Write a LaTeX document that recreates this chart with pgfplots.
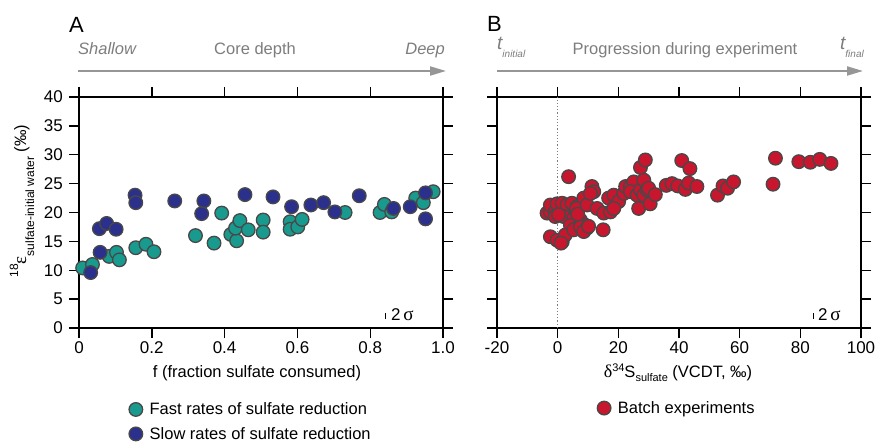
\documentclass[border=0pt]{standalone}
\usepackage{fontspec}
\setmainfont{Liberation Sans}
\newfontfamily\grk{Liberation Serif}
\usepackage{pgfplots}
\pgfplotsset{compat=1.18}
\usetikzlibrary{arrows.meta}
\definecolor{cteal}{RGB}{24,155,142}
\definecolor{cnavy}{RGB}{43,48,140}
\definecolor{cred}{RGB}{200,22,46}
\definecolor{cedge}{RGB}{72,72,72}
\definecolor{arrowgray}{RGB}{150,150,150}
\definecolor{textgray}{RGB}{125,125,125}
\newcommand{\fs}[1]{\fontsize{#1}{#1}\selectfont}
\begin{document}
\begin{tikzpicture}
\useasboundingbox (0pt,0pt) rectangle (875pt,442pt);
\pgfplotsset{
  common/.style={
    scale only axis, width=364pt, height=231pt,
    axis line style={line width=1.4pt},
    every tick/.style={black, line width=1.4pt},
    major tick length=10pt, tick align=outside,
    xtick pos=both, ytick pos=both,
    xticklabel pos=lower, yticklabel pos=left,
    ymin=0, ymax=40, ytick={0,5,...,40},
    tick label style={font=\fs{17}},
    xticklabel style={anchor=base, inner sep=0pt, yshift=-15pt},
    yticklabel style={anchor=east, inner sep=0pt, xshift=-6pt},
    clip=false,
    legend style={draw=none, fill=none, font=\fs{16.5}, row sep=7pt,
      anchor=north west, inner sep=0pt,
      /tikz/every odd column/.append style={column sep=5pt}},
    legend cell align=left,
  },
  pts/.style={only marks, mark=*, mark size=6.8pt,
    mark options={draw=cedge, line width=1.3pt, fill=#1}},
}
% ---------- Panel A ----------
\begin{axis}[common, at={(79pt,114pt)}, anchor=south west,
  xmin=0, xmax=1, xtick={0,0.2,0.4,0.6,0.8,1.0},
  xticklabels={0,0.2,0.4,0.6,0.8,1.0},
  yticklabels={0,5,10,15,20,25,30,35,40},
  legend style={at={(axis description cs:0.137,-0.314)}},
]
\addplot[pts=cteal] coordinates {
(0.010,10.4) (0.037,11.0) (0.083,12.4) (0.103,13.1) (0.111,11.8)
(0.156,13.9) (0.184,14.5) (0.206,13.2) (0.320,16.0) (0.371,14.7)
(0.392,19.9) (0.417,16.2) (0.433,15.1) (0.430,17.3) (0.442,18.6)
(0.465,17.0) (0.506,18.7) (0.506,16.6) (0.580,18.4) (0.580,17.1)
(0.601,17.5) (0.613,18.8) (0.731,20.0) (0.827,20.0) (0.839,21.4)
(0.859,20.1) (0.925,22.5) (0.946,21.7) (0.973,23.6)
};
\addlegendentry{Fast rates of sulfate reduction}
\addplot[pts=cnavy] coordinates {
(0.032,9.6) (0.056,17.2) (0.058,13.1) (0.076,18.1) (0.102,17.1)
(0.154,23.0) (0.156,21.7) (0.263,22.0) (0.343,22.0) (0.337,19.8)
(0.456,23.1) (0.533,22.7) (0.584,21.0) (0.637,21.3) (0.672,21.7)
(0.703,20.1) (0.770,22.9) (0.864,20.7) (0.910,21.0) (0.952,23.4)
(0.952,18.9)
};
\addlegendentry{Slow rates of sulfate reduction}
\addplot[black, line width=0.8pt, forget plot] coordinates {(0.843,1.6) (0.843,2.6)};
\node[anchor=base west, font=\fs{17}, inner sep=0pt] at (axis cs:0.857,1.3) {2\,{\grk\fs{19}σ}};
\end{axis}
% ---------- Panel B ----------
\begin{axis}[common, at={(497pt,114pt)}, anchor=south west,
  xmin=-20, xmax=100, xtick={-20,0,20,40,60,80,100},
  xticklabels={-20,0,20,40,60,80,100},
  yticklabels={},
  legend style={at={(axis description cs:0.275,-0.308)}},
]
\addplot[textgray, dotted, line width=1.2pt, forget plot] coordinates {(0,0) (0,40)};
\addplot[pts=cred] coordinates {
(-3.5,19.9) (-2.4,20.1) (-2.4,21.3) (-0.8,20.1) (-0.2,21.5) (1.5,21.6)
(3.1,21.3) (4.7,21.6) (6.4,21.0) (8.6,22.5) (-0.8,19.3) (2.0,19.3)
(5.3,19.0) (7.5,18.7) (4.2,17.8) (6.9,17.5) (9.1,17.8) (-2.4,15.8)
(-0.2,15.2) (1.5,14.9) (2.5,16.1) (5.3,17.0) (7.5,17.5) (9.7,17.3)
(1.1,14.7) (0.3,19.6) (8.6,16.7) (10.2,17.6) (6.2,20.7) (6.6,19.7)
(9.7,21.3) (3.6,26.2)
(11.3,24.5) (11.9,23.6) (10.8,23.3) (13.0,20.7) (15.0,17.0) (15.2,19.9)
(17.4,20.1) (16.8,22.5) (18.5,23.0) (20.1,21.9) (18.5,20.7) (21.8,23.3)
(22.4,24.5) (24.0,24.5) (25.1,25.3) (24.0,23.6) (26.7,20.7) (26.2,23.0)
(27.3,23.9) (28.4,23.0) (28.4,25.6) (27.3,27.8) (28.9,29.1) (29.5,23.9)
(30.0,24.2) (30.5,21.5) (32.2,23.1)
(35.8,24.7) (37.7,25.0) (39.6,24.6) (42.1,24.0) (43.2,25.1) (45.9,24.5)
(40.9,29.0) (43.6,27.6) (52.7,23.0) (54.5,24.6) (56.0,24.2) (58.0,25.3)
(71.0,24.9) (71.8,29.4) (79.5,28.8) (83.3,28.7) (86.4,29.2) (90.1,28.5)
};
\addlegendentry{Batch experiments}
\addplot[black, line width=0.8pt, forget plot] coordinates {(84.3,1.6) (84.3,2.6)};
\node[anchor=base west, font=\fs{17}, inner sep=0pt] at (axis cs:85.8,1.3) {2\,{\grk\fs{19}σ}};
\end{axis}
% ---------- axis labels ----------
\node[rotate=90, inner sep=0pt] at (22pt,241pt) {\raisebox{8pt}{\fs{12}18}{\grk\fs{19}ε}\raisebox{-8pt}{\fs{12}sulfate-initial water}\fs{16.5}\ (‰)};
\node[anchor=base, inner sep=0pt, font=\fs{16.5}] at (257pt,65pt) {f (fraction sulfate consumed)};
\node[anchor=base, inner sep=0pt, font=\fs{16.5}] at (678pt,65pt) {{\grk\fs{18}δ}\raisebox{6pt}{\fs{11}34}S\raisebox{-4pt}{\fs{11}sulfate} (VCDT, ‰)};
% ---------- panel letters and arrows ----------
\node[anchor=base west, inner sep=0pt, font=\fs{22}] at (69pt,409pt) {A};
\node[anchor=base west, inner sep=0pt, font=\fs{22}] at (487pt,410pt) {B};
\draw[line width=2pt, arrowgray, -{Triangle[length=16pt,width=9pt]}] (78pt,371pt) -- (446pt,371pt);
\draw[line width=2pt, arrowgray, -{Triangle[length=16pt,width=9pt]}] (497pt,371pt) -- (863pt,371pt);
\node[anchor=base west, inner sep=0pt, font=\fs{16.5}\itshape, textgray] at (78pt,387pt) {Shallow};
\node[anchor=base, inner sep=0pt, font=\fs{16.5}, textgray] at (255pt,387pt) {Core depth};
\node[anchor=base east, inner sep=0pt, font=\fs{16.5}\itshape, textgray] at (445pt,387pt) {Deep};
\node[anchor=base west, inner sep=0pt, textgray] at (497pt,392pt) {{\fs{19}\itshape t}\raisebox{-8pt}{\fs{10}\itshape initial}};
\node[anchor=base, inner sep=0pt, font=\fs{16.5}, textgray] at (685pt,387pt) {Progression during experiment};
\node[anchor=base east, inner sep=0pt, textgray] at (864pt,392pt) {{\fs{19}\itshape t}\raisebox{-8pt}{\fs{10}\itshape final}};
\end{tikzpicture}
\end{document}
